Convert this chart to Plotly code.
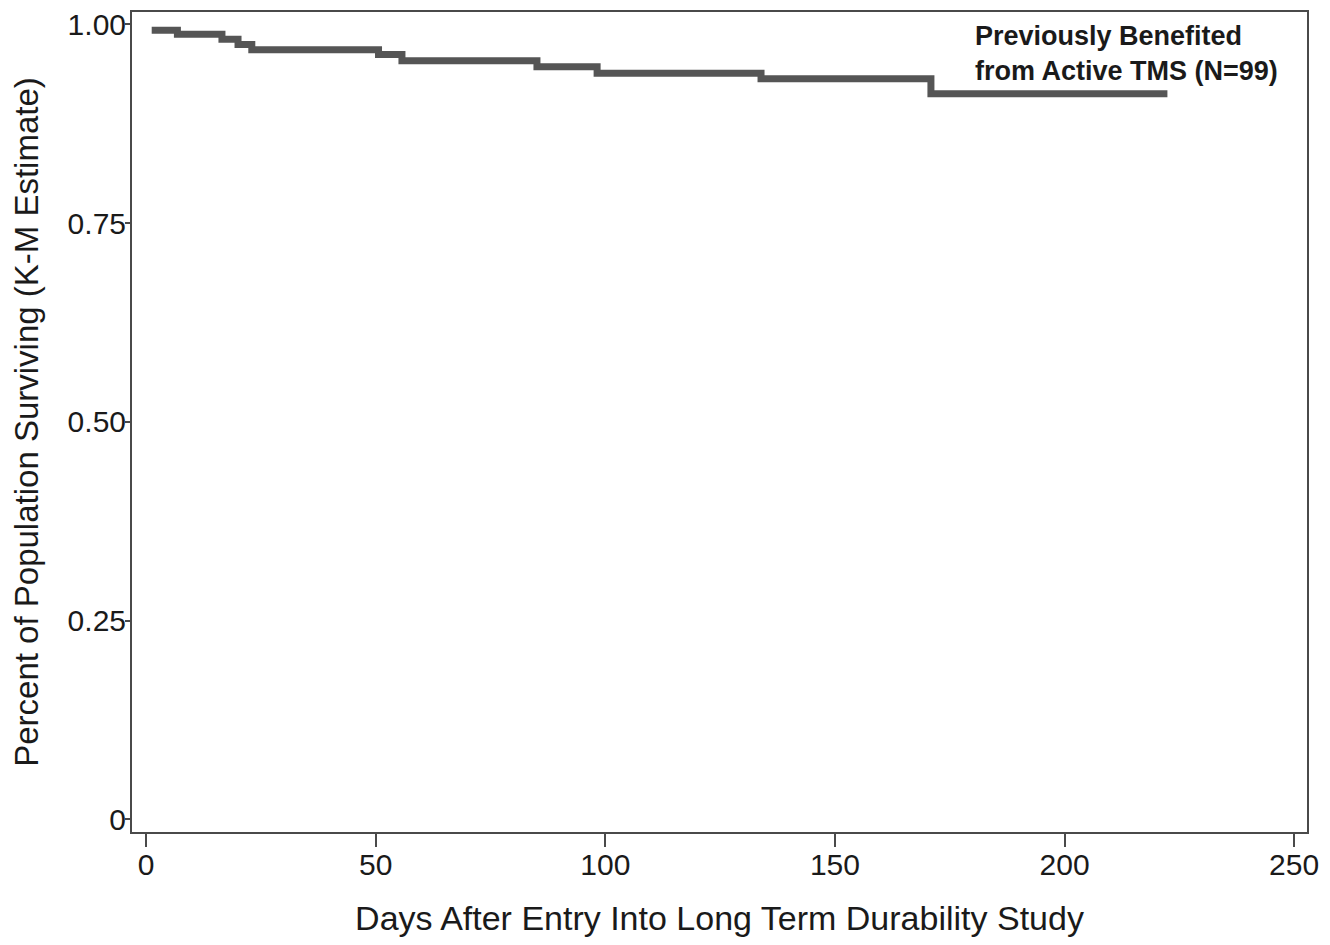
import plotly.graph_objects as go

# Kaplan-Meier step data
days = [1.2, 6.8, 16.5, 20.0, 23.0, 50.6, 55.7, 85.1, 98.2, 133.9, 170.9, 222.4]
surv = [0.9925, 0.9874, 0.9811, 0.9745, 0.9679, 0.9619, 0.9541, 0.9465, 0.9384, 0.9314, 0.9128, 0.9128]

x_ticks = [0, 50, 100, 150, 200, 250]
y_ticks = [0, 0.25, 0.50, 0.75, 1.00]
y_tick_labels = ["0", "0.25", "0.50", "0.75", "1.00"]

series_label = "Previously Benefited<br>from Active TMS (N=99)"
x_title = "Days After Entry Into Long Term Durability Study"
y_title = "Percent of Population Surviving (K-M Estimate)"

FONT = "Liberation Sans, Arial, sans-serif"
AX = "#4a4a4a"
TXT = "#1a1a1a"

fig = go.Figure()
fig.add_trace(go.Scatter(
    x=days, y=surv, mode="lines", line_shape="hv",
    line=dict(color="#555555", width=7), showlegend=False,
))

# the page body has an 8px margin, so the figure is sized to fit the window
fig.update_layout(
    width=1314, height=929,
    margin=dict(l=124, r=15, t=4, b=105),
    paper_bgcolor="white", plot_bgcolor="white",
    font=dict(family=FONT, color=TXT, size=30),
    xaxis=dict(
        range=[-3.09, 252.8], tickvals=x_ticks, ticks="outside", ticklen=13,
        tickwidth=2, tickcolor=AX, showline=True, linecolor=AX, linewidth=2,
        mirror=True, showgrid=False, zeroline=False, automargin=False,
        ticklabeloverflow="allow", ticklabelstandoff=-8,
        tickfont=dict(size=30, family=FONT, color=TXT),
        title=dict(text=x_title, font=dict(size=34, family=FONT, color=TXT), standoff=48),
    ),
    yaxis=dict(
        range=[-0.016, 1.0155], tickvals=y_ticks, ticktext=y_tick_labels,
        ticks="outside", ticklen=5, tickwidth=2, tickcolor=AX,
        showline=True, linecolor=AX, linewidth=2, mirror=True,
        showgrid=False, zeroline=False, automargin=False,
        ticklabeloverflow="allow", ticklabelstandoff=-7,
        tickfont=dict(size=30, family=FONT, color=TXT),
        title=dict(text=y_title, font=dict(size=33, family=FONT, color=TXT), standoff=20),
    ),
    annotations=[dict(
        text="<b>" + series_label + "</b>", xref="paper", yref="paper",
        x=0.716, y=0.991, xanchor="left", yanchor="top", align="left",
        showarrow=False, font=dict(size=27, family=FONT, color=TXT),
    )],
)

fig.write_html("out.html")
